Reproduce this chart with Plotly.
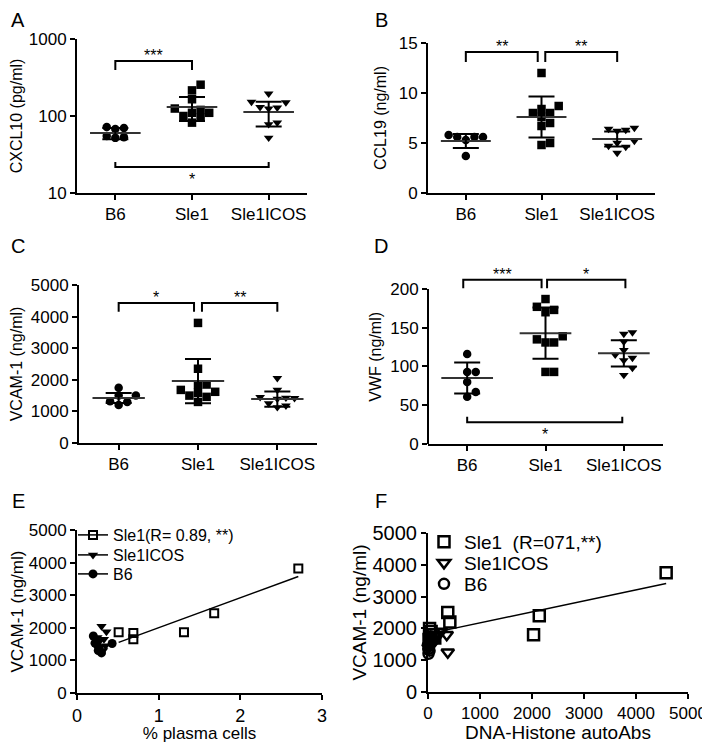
import numpy as np
import plotly.graph_objects as go

# page is shown in a 710x743 window; the default body margin offsets the plot by 8px
WIN_W, WIN_H = 710, 743
OFF = 8
W, H = WIN_W - OFF, WIN_H - OFF
FONT = "Liberation Sans, Arial, sans-serif"

groups = ["B6", "Sle1", "Sle1ICOS"]

# ---------------- data ----------------
# A: CXCL10 (pg/ml), log axis
cxcl10_b6 = [72, 70, 68, 55, 53, 52]
cxcl10_sle1 = [255, 215, 165, 125, 120, 110, 110, 100, 95, 82]
cxcl10_icos = [195, 152, 150, 130, 128, 125, 82, 78, 52]
cxcl10_mean = [60, 131, 113]
cxcl10_sd = [10, 45, 40]
cxcl10_sig = [(0, 1, 518, 396, "***"), (0, 2, 21.8, 25.3, "*")]

# B: CCL19 (ng/ml)
ccl19_b6 = [5.6, 5.6, 5.3, 5.6, 5.8, 3.7]
ccl19_sle1 = [12.0, 8.7, 8.4, 8.0, 8.0, 7.6, 7.0, 6.7, 5.0, 4.8]
ccl19_icos = [6.5, 6.4, 6.3, 6.2, 5.2, 5.0, 4.7, 4.6, 4.0]
ccl19_mean = [5.2, 7.6, 5.4]
ccl19_sd = [0.7, 2.05, 0.75]
ccl19_sig = [(0, 0.95, 14.1, 13.1, "**"), (1.05, 2, 14.1, 13.1, "**")]

# C: VCAM-1 (ng/ml)
vcam_b6 = [1750, 1500, 1500, 1320, 1300, 1200]
vcam_sle1 = [3800, 2350, 1850, 1840, 1680, 1620, 1590, 1500, 1460, 1300]
vcam_icos = [2050, 1680, 1450, 1430, 1420, 1400, 1250, 1180, 1130]
vcam_mean = [1424, 1960, 1390]
vcam_sd = [160, 700, 240]
vcam_sig = [(0, 0.95, 4430, 4150, "*"), (1.05, 2, 4430, 4150, "**")]

# D: VWF (ng/ml)
vwf_b6 = [116, 93, 93, 80, 67, 61]
vwf_sle1 = [187, 177, 170, 173, 139, 131, 131, 135, 93, 93]
vwf_icos = [144, 142, 132, 121, 115, 111, 108, 98, 89]
vwf_mean = [85, 143, 117]
vwf_sd = [20, 33, 17]
vwf_sig = [(-0.05, 0.95, 212, 201, "***"), (1.02, 2.02, 212, 201, "*"), (0, 1.98, 28, 35, "*")]

# E: VCAM-1 vs % plasma cells
e_sle1_x = [0.51, 0.69, 0.69, 1.31, 1.68, 2.71]
e_sle1_y = [1860, 1840, 1650, 1860, 2450, 3820]
e_icos_x = [0.30, 0.36, 0.25, 0.33, 0.28, 0.35, 0.23, 0.27, 0.32]
e_icos_y = [2050, 1880, 1700, 1650, 1600, 1450, 1450, 1400, 1300]
e_b6_x = [0.20, 0.22, 0.43, 0.27, 0.30, 0.26]
e_b6_y = [1750, 1530, 1520, 1380, 1230, 1300]

# F: VCAM-1 vs DNA-Histone autoAbs
f_sle1_x = [4580, 2140, 2030, 380, 420, 30, 60, 100, 130, 20]
f_sle1_y = [3750, 2400, 1800, 2500, 2200, 2000, 1900, 1800, 1700, 1650]
f_icos_x = [380, 360, 250, 40, 80, 20, 60, 120, 10]
f_icos_y = [1250, 1800, 1900, 1700, 1500, 1450, 1600, 1650, 1400]
f_b6_x = [10, 30, 15, 50, 25, 5]
f_b6_y = [1200, 1300, 1500, 1750, 1550, 1350]

# ---------------- layout helpers ----------------
def px2x(px):
    return (px - OFF) / W


def px2y(py):
    return 1 - (py - OFF) / H


def dom(px0, px1, py0, py1):
    """pixel box (window coords) -> paper domains (x, y)"""
    return [px2x(px0), px2x(px1)], [px2y(py1), px2y(py0)]


fig = go.Figure()
layout = dict(width=W, height=H,
              margin=dict(l=0, r=0, t=0, b=0, pad=0, autoexpand=False),
              paper_bgcolor="white", plot_bgcolor="white",
              font=dict(family=FONT, color="black", size=16),
              showlegend=True, annotations=[], shapes=[])

AX = dict(showline=True, linecolor="black", linewidth=2, ticks="outside",
          ticklen=5, tickwidth=2, tickcolor="black", showgrid=False,
          zeroline=False, automargin=False, tickfont=dict(size=17, family=FONT))


def swarm(values, ypx, xpx_per_unit, d=8.6):
    order = np.argsort(values)
    placed = []
    offs = np.zeros(len(values))
    for i in order:
        y = ypx(values[i])
        cands = [0]
        for j in range(1, 20):
            cands += [j * d, -j * d]
        for c in cands:
            ok = all((c - px) ** 2 + (y - py) ** 2 >= (0.9 * d) ** 2 for px, py in placed)
            if ok:
                offs[i] = c
                placed.append((c, y))
                break
    return offs / xpx_per_unit


def dot_panel(n, box, data, means, sds, yrange, tickvals, title, sig,
              log=False, standoff=6, spine_top=None):
    xs = "x" if n == 1 else f"x{n}"
    ys = "y" if n == 1 else f"y{n}"
    xd, yd = dom(*box)
    pw = box[1] - box[0]
    ph = box[3] - box[2]
    xppu = pw / 3.0
    yppu = ph / (yrange[1] - yrange[0])
    if log:
        ypx = lambda v: np.log10(v) * yppu
    else:
        ypx = lambda v: v * yppu
    symbols = ["circle", "square", "triangle-down"]
    for i, vals in enumerate(data):
        off = swarm(np.array(vals, float), ypx, xppu)
        fig.add_trace(go.Scatter(x=i + off, y=vals, mode="markers",
                                 marker=dict(symbol=symbols[i], size=8.5, color="black",
                                             line=dict(width=0)),
                                 xaxis=xs, yaxis=ys, showlegend=False, cliponaxis=False,
                                 hoverinfo="skip"))
        fig.add_trace(go.Scatter(x=[i - 0.33, i + 0.33], y=[means[i], means[i]], mode="lines",
                                 line=dict(color="#333333", width=2),
                                 xaxis=xs, yaxis=ys, showlegend=False, hoverinfo="skip"))
        fig.add_trace(go.Scatter(x=[i], y=[means[i]], mode="markers",
                                 marker=dict(size=2, opacity=0),
                                 error_y=dict(type="data", array=[sds[i]], width=13,
                                              thickness=2, color="black"),
                                 xaxis=xs, yaxis=ys, showlegend=False, hoverinfo="skip"))
    for (a, b, top, leg, txt) in sig:
        fig.add_trace(go.Scatter(x=[a, a, b, b], y=[leg, top, top, leg], mode="lines",
                                 line=dict(color="black", width=2),
                                 xaxis=xs, yaxis=ys, showlegend=False, hoverinfo="skip"))
        above = leg < top
        layout["annotations"].append(dict(
            x=(a + b) / 2, y=np.log10(top) if log else top, xref=xs, yref=ys,
            text=txt, showarrow=False, font=dict(size=16, family=FONT),
            xanchor="center",
            yanchor="bottom" if above else "top", yshift=-5 if above else -2))
    xa = dict(AX, domain=xd, range=[-0.5, 2.5], tickvals=[0, 1, 2], ticktext=groups,
              anchor=ys)
    ya = dict(AX, domain=yd, anchor=xs, tickvals=tickvals,
              title=dict(text=title, font=dict(size=16, family=FONT), standoff=standoff))
    if log:
        ya.update(type="log", range=yrange, ticktext=[str(t) for t in tickvals])
    else:
        ya.update(range=yrange)
    if spine_top is not None:
        ya["showline"] = False
        layout["shapes"].append(dict(type="line", xref=f"{xs} domain", yref=ys,
                                     x0=0, x1=0, y0=yrange[0], y1=spine_top,
                                     line=dict(color="black", width=2)))
    layout["xaxis" if n == 1 else f"xaxis{n}"] = xa
    layout["yaxis" if n == 1 else f"yaxis{n}"] = ya


dot_panel(1, (77, 307, 39, 193), [cxcl10_b6, cxcl10_sle1, cxcl10_icos],
          cxcl10_mean, cxcl10_sd, [1, 3], [10, 100, 1000], "CXCL10 (pg/ml)",
          cxcl10_sig, log=True, standoff=5)
dot_panel(2, (428, 655, 43, 193), [ccl19_b6, ccl19_sle1, ccl19_icos],
          ccl19_mean, ccl19_sd, [0, 15], [0, 5, 10, 15], "CCL19 (ng/ml)", ccl19_sig,
          standoff=8)
dot_panel(3, (79, 317, 285, 443), [vcam_b6, vcam_sle1, vcam_icos],
          vcam_mean, vcam_sd, [0, 5000], [0, 1000, 2000, 3000, 4000, 5000],
          "VCAM-1 (ng/ml)", vcam_sig, standoff=6)
dot_panel(4, (428, 663, 269.6, 444), [vwf_b6, vwf_sle1, vwf_icos],
          vwf_mean, vwf_sd, [0, 225], [0, 50, 100, 150, 200], "VWF (ng/ml)", vwf_sig,
          standoff=4, spine_top=200)

# ---------------- scatter panels ----------------
def scatter_panel(n, box, series, xrange, xtickvals, ytickvals, xtitle, ytitle,
                  legend_names, fit_x, fit_y, xtick_size, ytick_size, title_size,
                  ystandoff, xstandoff, line_in_legend):
    xs, ys = f"x{n}", f"y{n}"
    xd, yd = dom(*box)
    for (sx, sy, name, marker) in series:
        fig.add_trace(go.Scatter(x=sx, y=sy, mode="markers", marker=marker,
                                 xaxis=xs, yaxis=ys, showlegend=False, cliponaxis=False,
                                 hoverinfo="skip"))
    coef = np.polyfit(fit_x, fit_y, 1)
    lx = np.array([min(fit_x), max(fit_x)])
    fig.add_trace(go.Scatter(x=lx, y=np.polyval(coef, lx), mode="lines",
                             line=dict(color="black", width=1.5),
                             xaxis=xs, yaxis=ys, showlegend=False, hoverinfo="skip"))
    for (sx, sy, name, marker), lg in zip(series, legend_names):
        fig.add_trace(go.Scatter(x=[None], y=[None],
                                 mode="lines+markers" if line_in_legend else "markers",
                                 marker=marker, line=dict(color="black", width=1.5),
                                 name=name, legend=lg, xaxis=xs, yaxis=ys))
    layout[f"xaxis{n}"] = dict(AX, domain=xd, range=xrange, tickvals=xtickvals, anchor=ys,
                               tickfont=dict(size=xtick_size, family=FONT),
                               title=dict(text=xtitle, font=dict(size=title_size, family=FONT),
                                          standoff=xstandoff))
    layout[f"yaxis{n}"] = dict(AX, domain=yd, range=[0, 5000], tickvals=ytickvals, anchor=xs,
                               tickfont=dict(size=ytick_size, family=FONT),
                               title=dict(text=ytitle, font=dict(size=title_size, family=FONT),
                                          standoff=ystandoff))


vt = [0, 1000, 2000, 3000, 4000, 5000]
scatter_panel(5, (77, 322, 530, 693), [
    (e_sle1_x, e_sle1_y, "Sle1(R= 0.89, **)",
     dict(symbol="square-open", size=8, color="black", line=dict(width=2, color="black"))),
    (e_icos_x, e_icos_y, "Sle1ICOS",
     dict(symbol="triangle-down", size=9, color="black")),
    (e_b6_x, e_b6_y, "B6", dict(symbol="circle", size=9, color="black")),
], [0, 3], [0, 1, 2, 3], vt, "% plasma cells", "VCAM-1 (ng/ml)",
    ["legend", "legend2", "legend3"],
    e_sle1_x, e_sle1_y, 18, 17, 17, 12, 2, True)

scatter_panel(6, (428, 688, 533, 692), [
    (f_sle1_x, f_sle1_y, "Sle1  (R=071,**)",
     dict(symbol="square-open", size=11, color="black", line=dict(width=2.5, color="black"))),
    (f_icos_x, f_icos_y, "Sle1ICOS",
     dict(symbol="triangle-down-open", size=11, color="black", line=dict(width=2.5, color="black"))),
    (f_b6_x, f_b6_y, "B6",
     dict(symbol="circle-open", size=10, color="black", line=dict(width=2.5, color="black"))),
], [0, 5000], [0, 1000, 2000, 3000, 4000, 5000], vt, "DNA-Histone autoAbs",
    "VCAM-1 (ng/ml)", ["legend4", "legend5", "legend6"],
    f_sle1_x, f_sle1_y, 17, 20, 19, 1, 3, False)

# one legend box per entry, so that the rows sit as close as in the reference
for lg, (lx, ly), fs in [("legend", (73, 535), 16), ("legend2", (73, 555), 16),
                         ("legend3", (73, 574), 16), ("legend4", (424, 542), 19),
                         ("legend5", (424, 563), 19), ("legend6", (424, 584), 19)]:
    layout[lg] = dict(x=px2x(lx), y=px2y(ly), xanchor="left", yanchor="middle",
                      bgcolor="rgba(0,0,0,0)", font=dict(size=fs, family=FONT),
                      itemwidth=30, tracegroupgap=0)

# panel letters (top row pinned to the top edge so they are not clipped)
for letter, px, py, anchor in [("A", 18, OFF, "top"), ("B", 381, OFF, "top"),
                               ("C", 18, 246, "middle"), ("D", 381, 246, "middle"),
                               ("E", 18, 501, "middle"), ("F", 381, 501, "middle")]:
    layout["annotations"].append(dict(text=letter, x=px2x(px), y=px2y(py), xref="paper",
                                      yref="paper", showarrow=False, xanchor="center",
                                      yanchor=anchor, borderpad=0,
                                      font=dict(size=20, family=FONT)))

fig.update_layout(**layout)
fig.write_html("out.html")
